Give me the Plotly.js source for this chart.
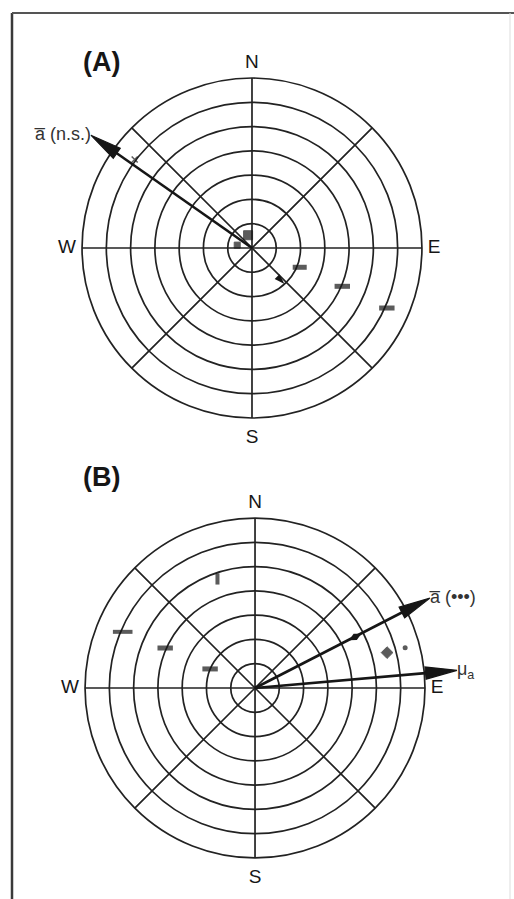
<!DOCTYPE html>
<html>
<head>
<meta charset="utf-8">
<script src="https://cdn.plot.ly/plotly-3.0.1.min.js"></script>
<style>
  html, body { margin: 0; padding: 0; background: #fff; }
  #chart { width: 514px; height: 899px; }
</style>
</head>
<body>
<div id="chart"></div>
<script>
// grid of both rose diagrams
const ringR = [1, 2, 3, 4, 5, 6, 7];
const spokeTheta = [0, 45, 90, 135];
const compass = ['N', 'E', 'S', 'W'];
const compassTheta = [0, 90, 180, 270];
const compassR = [7.62, 7.5, 7.85, 7.62];

// panel A: orientations of single groups + mean vector
const ptsA_r = [6.05, 0.55, 0.62, 2.12, 4.04, 6.08];
const ptsA_theta = [307, 343, 281, 112, 113, 114];
const triA_r = [2.0];
const triA_theta = [138];
const vecA_r = [8.1];
const vecA_theta = [305];
const vecA_label = ['a\u0305 (n.s.)'];

// panel B
const ptsB_r = [4.75, 5.92, 4.05, 2.01, 5.63, 6.4];
const ptsB_theta = [341, 293, 294, 293, 75, 75];
const midB_r = [4.63];
const midB_theta = [63];
const vecB_r = [8.1, 8.35];
const vecB_theta = [62.8, 85];
const vecB_label = ['a\u0305 (\u2022\u2022\u2022)', '\u03bc<sub>a</sub>'];

const INK = '#161616';
const FONT = 'Liberation Sans, Arial, sans-serif';

function toXY(r, th) {
    const t = th * Math.PI / 180;
    return [r * Math.sin(t), r * Math.cos(t)];
}
function toPolar(x, y) {
    let th = Math.atan2(x, y) * 180 / Math.PI;
    if (th < 0) th += 360;
    return [Math.hypot(x, y), th];
}

// arrow head as a slim filled triangle ending at the vector tip
function headTrace(r, th, sub) {
    const len = 1.3, half = 0.25;
    const [tx, ty] = toXY(r, th);
    const [bx, by] = toXY(r - len, th);
    const [ux, uy] = toXY(1, th);
    const px = -uy, py = ux;
    const pts = [[tx, ty], [bx + px * half, by + py * half], [bx - px * half, by - py * half], [tx, ty]];
    const pol = pts.map(p => toPolar(p[0], p[1]));
    return {
        type: 'scatterpolar', subplot: sub, mode: 'lines', fill: 'toself',
        r: pol.map(p => p[0]), theta: pol.map(p => p[1]),
        line: { color: INK, width: 1.2 }, fillcolor: INK, hoverinfo: 'skip'
    };
}

function gridTraces(sub) {
    const out = spokeTheta.map(a => ({
        type: 'scatterpolar', subplot: sub, mode: 'lines',
        r: [7, 0, 7], theta: [a, a, a + 180],
        line: { color: '#222', width: 1.7 }, hoverinfo: 'skip'
    }));
    out.push({
        type: 'scatterpolar', subplot: sub, mode: 'text',
        r: compassR, theta: compassTheta, text: compass,
        textfont: { family: FONT, size: 19, color: INK }, hoverinfo: 'skip'
    });
    return out;
}

function vectorTraces(rs, ths, labels, sub, side) {
    const out = [];
    rs.forEach((r, i) => {
        out.push({
            type: 'scatterpolar', subplot: sub, mode: 'lines',
            r: [0, r - 0.6], theta: [ths[i], ths[i]],
            line: { color: INK, width: 2.6 }, hoverinfo: 'skip'
        });
        out.push(headTrace(r, ths[i], sub));
    });
    out.push({
        type: 'scatterpolar', subplot: sub, mode: 'text',
        r: rs, theta: ths, text: labels, textposition: side,
        textfont: { family: FONT, size: 18, color: '#333' }, hoverinfo: 'skip'
    });
    return out;
}

const data = [
    ...gridTraces('polar'),
    {
        type: 'scatterpolar', subplot: 'polar', mode: 'markers',
        r: ptsA_r, theta: ptsA_theta,
        marker: {
            symbol: ['x-thin', 'square', 'square', 'line-ew', 'line-ew', 'line-ew'],
            size: [6, 9, 6, 10, 11, 11], color: INK,
            line: { color: INK, width: [1.5, 1, 1, 5, 5, 5] }
        }, hoverinfo: 'skip'
    },
    {
        type: 'scatterpolar', subplot: 'polar', mode: 'markers',
        r: triA_r, theta: triA_theta,
        marker: { symbol: 'arrow', size: 11, angle: 135, color: INK }, hoverinfo: 'skip'
    },
    ...vectorTraces(vecA_r, vecA_theta, vecA_label, 'polar', 'middle left'),

    ...gridTraces('polar2'),
    {
        type: 'scatterpolar', subplot: 'polar2', mode: 'markers',
        r: ptsB_r, theta: ptsB_theta,
        marker: {
            symbol: ['line-ns', 'line-ew', 'line-ew', 'line-ew', 'diamond', 'circle'],
            size: [8, 14, 11, 11, 9, 5], color: INK,
            line: { color: INK, width: [4, 4, 5, 5, 1, 0] }
        }, hoverinfo: 'skip'
    },
    {
        type: 'scatterpolar', subplot: 'polar2', mode: 'markers',
        r: midB_r, theta: midB_theta,
        marker: { symbol: 'diamond-tall', size: 10, angle: 62.8, color: INK }, hoverinfo: 'skip'
    },
    ...vectorTraces(vecB_r, vecB_theta, vecB_label, 'polar2', 'middle right')
];

function polarLayout(dx, dy) {
    return {
        domain: { x: dx, y: dy },
        bgcolor: 'rgba(0,0,0,0)',
        radialaxis: {
            range: [0, 8.5], tickvals: ringR, showticklabels: false, ticks: '',
            showline: false, gridcolor: '#222', gridwidth: 1.7
        },
        angularaxis: {
            rotation: 90, direction: 'clockwise', showgrid: false,
            showline: false, ticks: '', showticklabels: false
        }
    };
}

const px = v => v / 514, py = v => (899 - v) / 899;

const layout = {
    width: 514, height: 899,
    margin: { l: 0, r: 0, t: 0, b: 0 },
    paper_bgcolor: '#fff',
    showlegend: false,
    font: { family: FONT, color: INK },
    polar: polarLayout([0.0887, 0.8918], [0.4946, 0.9537]),
    polar2: polarLayout([0.0946, 0.8977], [0.0051, 0.4643]),
    annotations: [
        { text: '<b>(A)</b>', x: px(81), y: py(45), xref: 'paper', yref: 'paper', showarrow: false, font: { size: 27, family: FONT, color: INK } },
        { text: '<b>(B)</b>', x: px(81), y: py(477), xref: 'paper', yref: 'paper', showarrow: false, font: { size: 27, family: FONT, color: INK } }
    ],
    shapes: [
        { type: 'line', xref: 'paper', yref: 'paper', x0: px(12), x1: px(12), y0: 0, y1: py(13), line: { color: '#3a3a3a', width: 2.5 } },
        { type: 'line', xref: 'paper', yref: 'paper', x0: px(12), x1: 1, y0: py(13), y1: py(13), line: { color: '#555', width: 2 } },
        { type: 'line', xref: 'paper', yref: 'paper', x0: px(510), x1: px(510), y0: 0, y1: py(13), line: { color: '#ddd', width: 1 } }
    ]
};

Plotly.newPlot('chart', data, layout, { staticPlot: true, displayModeBar: false });
</script>
</body>
</html>
